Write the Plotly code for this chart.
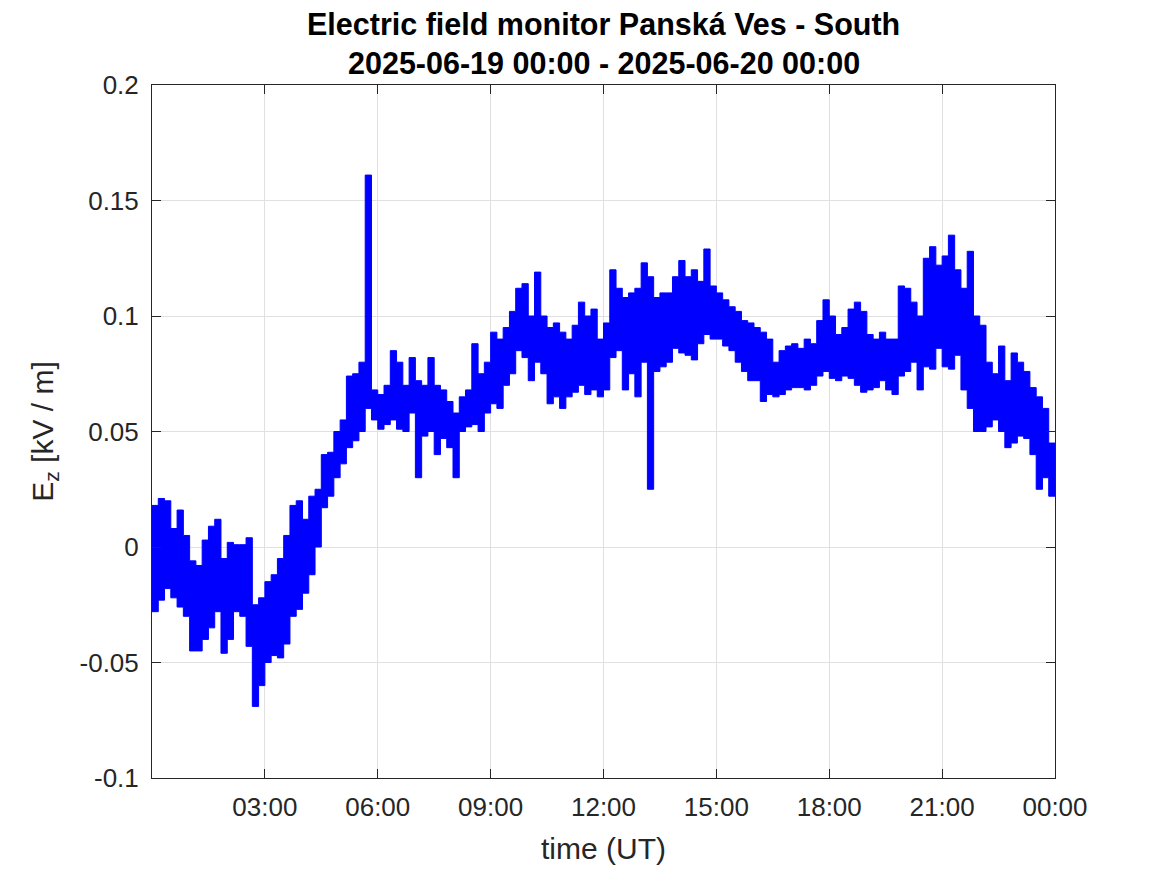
import datetime as dt
import plotly.graph_objects as go

# 10-minute blocks starting 2025-06-19 00:00 (144 blocks); low / high of E_z [kV/m] in each block
ez_low = [
    -0.028, -0.023, -0.018, -0.022, -0.026, -0.030,
    -0.045, -0.045, -0.040, -0.035, -0.028, -0.046,
    -0.040, -0.028, -0.030, -0.043, -0.069, -0.060,
    -0.050, -0.047, -0.048, -0.042, -0.030, -0.027,
    -0.020, -0.012, 0.000, 0.017, 0.022, 0.030,
    0.036, 0.043, 0.046, 0.050, 0.060, 0.055,
    0.051, 0.053, 0.055, 0.051, 0.050, 0.058,
    0.030, 0.048, 0.050, 0.040, 0.047, 0.043,
    0.030, 0.050, 0.052, 0.053, 0.050, 0.058,
    0.062, 0.060, 0.070, 0.075, 0.085, 0.082,
    0.072, 0.080, 0.075, 0.062, 0.065, 0.060,
    0.065, 0.067, 0.070, 0.066, 0.068, 0.065,
    0.068, 0.082, 0.085, 0.068, 0.075, 0.065,
    0.080, 0.025, 0.076, 0.078, 0.080, 0.086,
    0.084, 0.083, 0.081, 0.088, 0.092, 0.090,
    0.090, 0.087, 0.085, 0.080, 0.076, 0.072,
    0.072, 0.063, 0.066, 0.065, 0.066, 0.068,
    0.069, 0.069, 0.068, 0.070, 0.074, 0.076,
    0.073, 0.072, 0.074, 0.073, 0.070, 0.067,
    0.068, 0.069, 0.072, 0.068, 0.066, 0.074,
    0.076, 0.080, 0.068, 0.078, 0.077, 0.086,
    0.078, 0.077, 0.083, 0.068, 0.060, 0.050,
    0.050, 0.052, 0.055, 0.050, 0.043, 0.045,
    0.048, 0.047, 0.040, 0.025, 0.030, 0.022,
]
ez_high = [
    0.018, 0.021, 0.020, 0.008, 0.016, 0.005,
    -0.006, -0.008, 0.003, 0.009, 0.012, -0.005,
    0.002, 0.001, 0.001, 0.004, -0.025, -0.022,
    -0.015, -0.012, -0.005, 0.005, 0.018, 0.020,
    0.012, 0.022, 0.025, 0.040, 0.041, 0.050,
    0.055, 0.074, 0.075, 0.080, 0.161, 0.068,
    0.066, 0.070, 0.085, 0.080, 0.070, 0.082,
    0.072, 0.070, 0.082, 0.070, 0.068, 0.063,
    0.058, 0.065, 0.068, 0.088, 0.075, 0.080,
    0.093, 0.090, 0.095, 0.102, 0.112, 0.114,
    0.100, 0.119, 0.100, 0.095, 0.097, 0.093,
    0.090, 0.096, 0.106, 0.100, 0.103, 0.090,
    0.097, 0.120, 0.112, 0.108, 0.110, 0.112,
    0.123, 0.117, 0.108, 0.110, 0.110, 0.117,
    0.124, 0.117, 0.120, 0.115, 0.129, 0.113,
    0.110, 0.107, 0.104, 0.102, 0.098, 0.097,
    0.095, 0.093, 0.090, 0.080, 0.085, 0.087,
    0.088, 0.086, 0.090, 0.088, 0.098, 0.107,
    0.100, 0.092, 0.095, 0.103, 0.106, 0.102,
    0.092, 0.090, 0.093, 0.090, 0.090, 0.113,
    0.112, 0.106, 0.100, 0.125, 0.130, 0.122,
    0.126, 0.135, 0.120, 0.112, 0.128, 0.100,
    0.096, 0.080, 0.075, 0.087, 0.072, 0.084,
    0.080, 0.076, 0.069, 0.065, 0.060, 0.045,
]

block_minutes = 10
start = dt.datetime(2025, 6, 19, 0, 0)
end = dt.datetime(2025, 6, 20, 0, 0)

# x tick labels every 3 hours
tick_hours = [3, 6, 9, 12, 15, 18, 21, 24]
tick_text = ["03:00", "06:00", "09:00", "12:00", "15:00", "18:00", "21:00", "00:00"]
y_ticks = [-0.1, -0.05, 0, 0.05, 0.1, 0.15, 0.2]
y_text = ["-0.1", "-0.05", "0", "0.05", "0.1", "0.15", "0.2"]

title_line1 = "Electric field monitor Panská Ves - South"
title_line2 = "2025-06-19 00:00 - 2025-06-20 00:00"

# block edges; last value repeated so the final step reaches 24:00
xs = [start + dt.timedelta(minutes=block_minutes * i) for i in range(len(ez_low))] + [end]
y_hi = ez_high + [ez_high[-1]]
y_lo = ez_low + [ez_low[-1]]

blue = "#0000FF"
fig = go.Figure()
fig.add_trace(go.Scatter(x=xs, y=y_hi, mode="lines", line=dict(color=blue, width=1, shape="hv"),
                         showlegend=False, hoverinfo="skip"))
fig.add_trace(go.Scatter(x=xs, y=y_lo, mode="lines", line=dict(color=blue, width=1, shape="hv"),
                         fill="tonexty", fillcolor=blue, showlegend=False))

font_family = "Liberation Sans, Arial, Helvetica, sans-serif"
axis_common = dict(
    showline=True, linecolor="#262626", linewidth=1, mirror="ticks",
    ticks="inside", ticklen=9, tickcolor="#262626", tickwidth=1,
    showgrid=True, gridcolor="#E0E0E0", gridwidth=1, zeroline=False,
    automargin=False,
    tickfont=dict(size=26, color="#262626", family=font_family),
)

fig.update_layout(
    width=1151, height=859,
    margin=dict(l=144, r=104, t=77, b=89),
    paper_bgcolor="white", plot_bgcolor="white",
    font=dict(family=font_family, color="#262626"),
    xaxis=dict(
        range=[start, end],
        tickvals=[start + dt.timedelta(hours=h) for h in tick_hours],
        ticktext=tick_text,
        ticklabelstandoff=6,
        title=dict(text="time (UT)", font=dict(size=30, color="#262626"), standoff=16),
        **axis_common,
    ),
    yaxis=dict(
        range=[-0.1, 0.2],
        tickvals=y_ticks, ticktext=y_text,
        ticklabelstandoff=7,
        title=dict(text="E<sub>z</sub> [kV / m]", font=dict(size=30, color="#262626"), standoff=17),
        **axis_common,
    ),
    annotations=[
        dict(text="<b>" + title_line1 + "</b>", x=0.5, xref="paper", xanchor="center",
             y=1.088, yref="paper", yanchor="middle", showarrow=False,
             font=dict(size=30.5, color="black", family=font_family)),
        dict(text="<b>" + title_line2 + "</b>", x=0.5, xref="paper", xanchor="center",
             y=1.032, yref="paper", yanchor="middle", showarrow=False,
             font=dict(size=30.5, color="black", family=font_family)),
    ],
)

fig.write_html("out.html")
